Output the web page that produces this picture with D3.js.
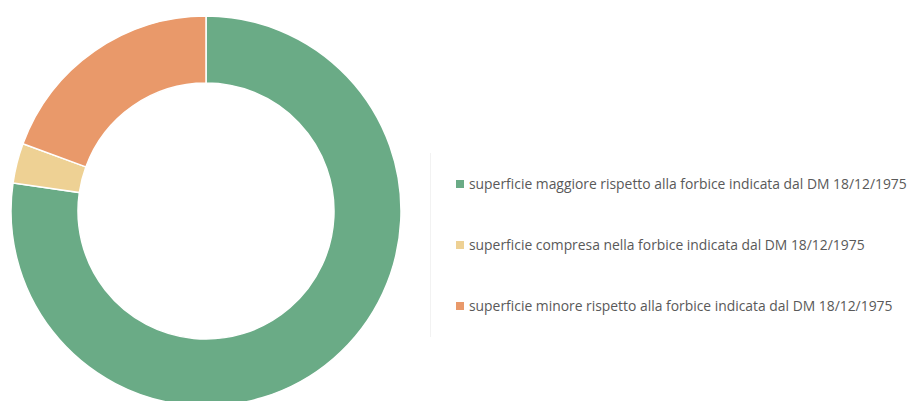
<!DOCTYPE html>
<html><head><meta charset="utf-8">
<script src="https://cdn.jsdelivr.net/npm/d3@7"></script>
<style>body{margin:0;background:#fff}svg{display:block}</style>
</head><body>
<svg id="c" width="908" height="401"></svg>
<script>
const categories = [
  "superficie maggiore rispetto alla forbice indicata dal DM 18/12/1975",
  "superficie compresa nella forbice indicata dal DM 18/12/1975",
  "superficie minore rispetto alla forbice indicata dal DM 18/12/1975"
];
const values = [77.3, 3.3, 19.4];
const colors = ["#6aab86", "#eed194", "#e9996a"];

const svg = d3.select("#c");
const cx = 206, cy = 211, outerR = 195, innerR = 128;
const pie = d3.pie().sort(null).value(d => d.v);
const arc = d3.arc().innerRadius(innerR).outerRadius(outerR);
const data = categories.map((c, i) => ({c, v: values[i], col: colors[i]}));
const g = svg.append("g").attr("transform", `translate(${cx},${cy})`);
g.selectAll("path").data(pie(data)).join("path")
  .attr("d", arc).attr("fill", d => d.data.col)
  .attr("stroke", "#fff").attr("stroke-width", 1.5);

svg.append("line").attr("x1", 430.5).attr("x2", 430.5).attr("y1", 153).attr("y2", 337)
  .attr("stroke", "#f2f2f2").attr("stroke-width", 1);

const leg = svg.append("g");
const ys = [184, 245, 306];
const items = leg.selectAll("g").data(data).join("g")
  .attr("transform", (d, i) => `translate(456,${ys[i]})`);
items.append("rect").attr("x", 0).attr("y", -4).attr("width", 8).attr("height", 8).attr("fill", d => d.col);
items.append("text").attr("x", 13).attr("y", 0).attr("dy", "0.35em")
  .attr("font-family", "Open Sans, sans-serif").attr("font-size", 12.5).attr("fill", "#595959")
  .text(d => d.c);
// fit first label to measured width
const t0 = items.select("text").node();
const w = t0.getComputedTextLength();
const fs = 12.5 * 438 / w;
items.selectAll("text").attr("font-size", fs);
</script>
</body></html>
